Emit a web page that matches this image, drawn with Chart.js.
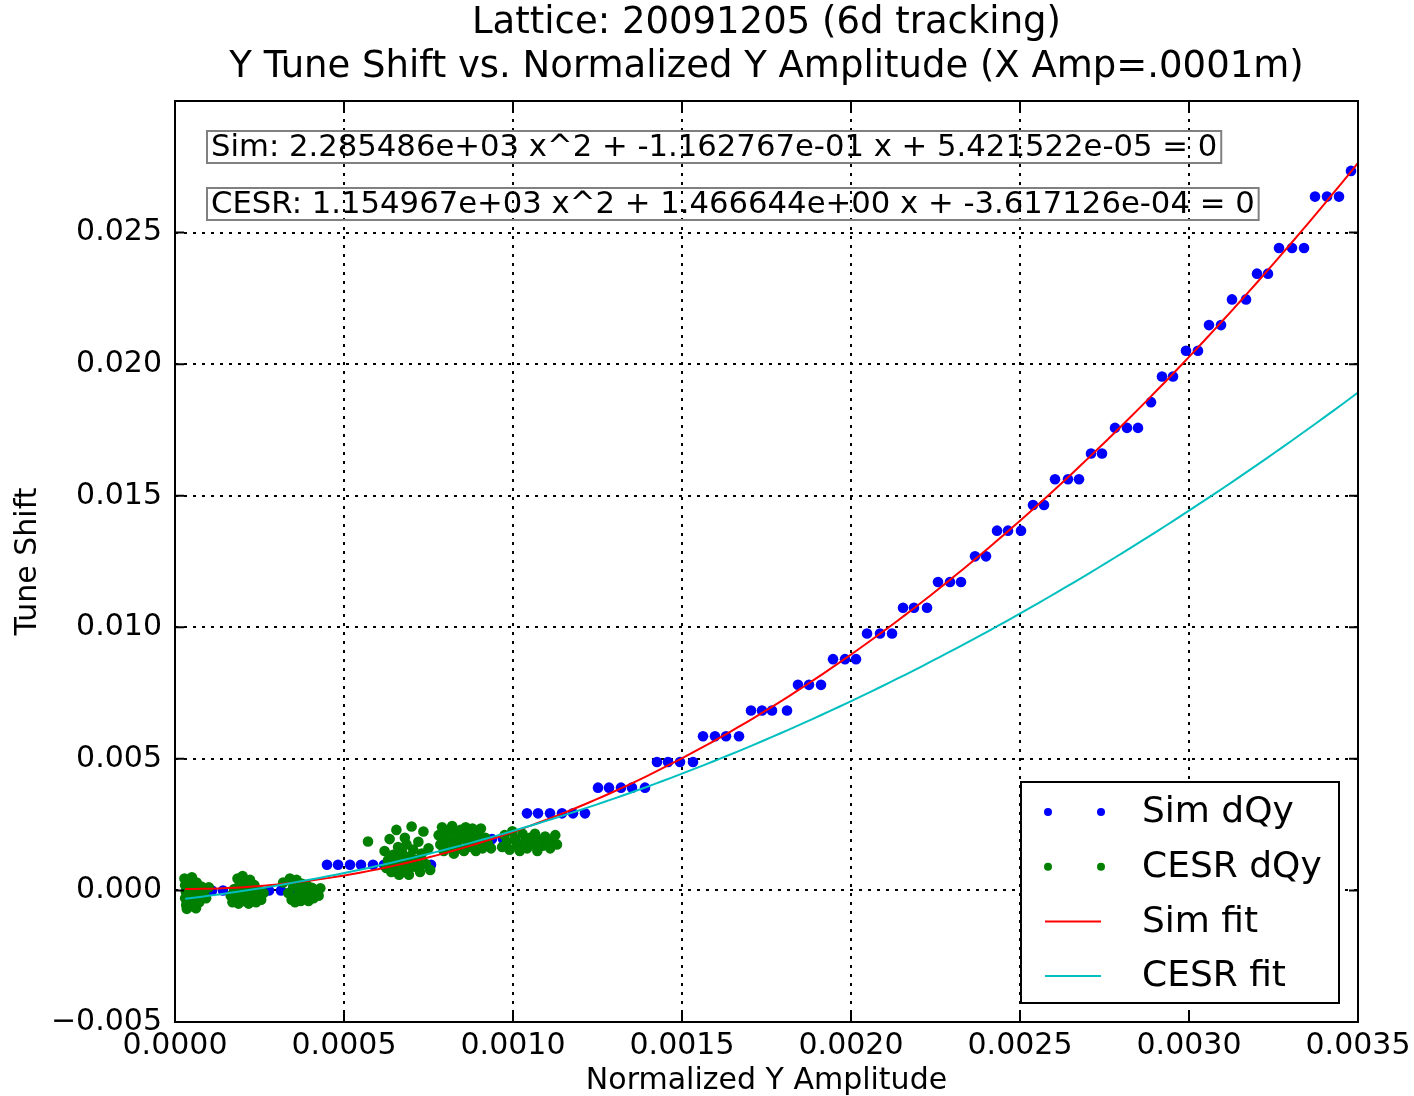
<!DOCTYPE html>
<html>
<head>
<meta charset="utf-8">
<title>Y Tune Shift</title>
<script src="https://cdn.jsdelivr.net/npm/chart.js@4.4.1/dist/chart.umd.min.js"></script>
<style>
  html, body { margin: 0; padding: 0; background: #fff; }
  #wrap { width: 1414px; height: 1096px; }
</style>
</head>
<body>
<div id="wrap"><canvas id="tune-chart" width="1414" height="1096"></canvas></div>
<script>
const FONT = '"DejaVu Sans", "Liberation Sans", sans-serif';

// tracking results (quantised tune shift, steps of 1/1024)
const simX = [
  0.0000414, 0.0000740, 0.0001095, 0.0001420, 0.0001775, 0.0002101, 0.0002456, 0.0002781, 0.0003136, 0.0003462, 0.0003817, 0.0004142,
  0.0004497, 0.0004823, 0.0005178, 0.0005503, 0.0005858, 0.0006183, 0.0006539, 0.0006864, 0.0007219, 0.0007574,
  0.0007988, 0.0008343, 0.0008698, 0.0009024, 0.0009379, 0.0009704, 0.0010059,
  0.0010414, 0.0010740, 0.0011095, 0.0011450, 0.0011775, 0.0012130,
  0.0012515, 0.0012840, 0.0013195, 0.0013521, 0.0013905,
  0.0014260, 0.0014586, 0.0014941, 0.0015326,
  0.0015621, 0.0015976, 0.0016302, 0.0016687,
  0.0017042, 0.0017367, 0.0017663, 0.0018107,
  0.0018432, 0.0018758, 0.0019113,
  0.0019468, 0.0019823, 0.0020148,
  0.0020474, 0.0020858, 0.0021213,
  0.0021539, 0.0021864, 0.0022249,
  0.0022574, 0.0022929, 0.0023255,
  0.0023669, 0.0023994,
  0.0024320, 0.0024645, 0.0025030,
  0.0025385, 0.0025710,
  0.0026036, 0.0026420, 0.0026746,
  0.0027101, 0.0027426,
  0.0027811, 0.0028166, 0.0028491,
  0.0028876,
  0.0029201, 0.0029527,
  0.0029911, 0.0030266,
  0.0030592, 0.0030947,
  0.0031272, 0.0031687,
  0.0032012, 0.0032337,
  0.0032663, 0.0033048, 0.0033403,
  0.0033728, 0.0034083, 0.0034438,
  0.0034793
];
const simY = [
  0, 0, 0, 0, 0, 0, 0, 0, 0, 0, 0, 0,
  0.000977, 0.000977, 0.000977, 0.000977, 0.000977, 0.000977, 0.000977, 0.000977, 0.000977, 0.000977,
  0.001953, 0.001953, 0.001953, 0.001953, 0.001953, 0.001953, 0.001953,
  0.002930, 0.002930, 0.002930, 0.002930, 0.002930, 0.002930,
  0.003906, 0.003906, 0.003906, 0.003906, 0.003906,
  0.004883, 0.004883, 0.004883, 0.004883,
  0.005859, 0.005859, 0.005859, 0.005859,
  0.006836, 0.006836, 0.006836, 0.006836,
  0.007813, 0.007813, 0.007813,
  0.008789, 0.008789, 0.008789,
  0.009766, 0.009766, 0.009766,
  0.010742, 0.010742, 0.010742,
  0.011719, 0.011719, 0.011719,
  0.012695, 0.012695,
  0.013672, 0.013672, 0.013672,
  0.014648, 0.014648,
  0.015625, 0.015625, 0.015625,
  0.016602, 0.016602,
  0.017578, 0.017578, 0.017578,
  0.018555,
  0.019531, 0.019531,
  0.020508, 0.020508,
  0.021484, 0.021484,
  0.022461, 0.022461,
  0.023438, 0.023438,
  0.024414, 0.024414, 0.024414,
  0.026367, 0.026367, 0.026367,
  0.027344
];

// machine measurements
const cesrX = [
  // first amplitude group
  0.000028, 0.000030, 0.000032, 0.000030, 0.000033, 0.000035, 0.000040, 0.000042, 0.000044, 0.000045,
  0.000048, 0.000050, 0.000052, 0.000055, 0.000056, 0.000058, 0.000062, 0.000064, 0.000066, 0.000070,
  0.000072, 0.000078, 0.000085, 0.000092, 0.000100,
  // second
  0.000165, 0.000170, 0.000175, 0.000180, 0.000185, 0.000188, 0.000192, 0.000195, 0.000200, 0.000203,
  0.000207, 0.000210, 0.000215, 0.000218, 0.000222, 0.000226, 0.000230, 0.000235, 0.000240, 0.000245,
  0.000250, 0.000255, 0.000262,
  // third
  0.000320, 0.000335, 0.000340, 0.000345, 0.000350, 0.000355, 0.000360, 0.000363, 0.000368, 0.000372,
  0.000376, 0.000380, 0.000385, 0.000390, 0.000395, 0.000400, 0.000405, 0.000410, 0.000418, 0.000425,
  0.000430,
  // fourth
  0.000571,
  0.000620, 0.000625, 0.000630, 0.000635, 0.000640, 0.000645, 0.000650, 0.000655, 0.000660, 0.000663,
  0.000668, 0.000672, 0.000676, 0.000680, 0.000685, 0.000688, 0.000692, 0.000696, 0.000700, 0.000705,
  0.000710, 0.000715, 0.000720, 0.000725, 0.000730, 0.000735, 0.000742, 0.000750, 0.000755,
  0.000650, 0.000665, 0.000675, 0.000690, 0.000700, 0.000712, 0.000722, 0.000660,
  // fifth
  0.000780, 0.000785, 0.000790, 0.000795, 0.000800, 0.000805, 0.000810, 0.000815, 0.000820, 0.000825,
  0.000830, 0.000835, 0.000840, 0.000845, 0.000850, 0.000855, 0.000860, 0.000865, 0.000870, 0.000875,
  0.000880, 0.000885, 0.000890, 0.000895, 0.000900, 0.000905, 0.000910, 0.000918, 0.000925, 0.000935,
  // sixth
  0.000968, 0.000975, 0.000982, 0.000990, 0.000998, 0.001005, 0.001012, 0.001020, 0.001028, 0.001035,
  0.001042, 0.001050, 0.001058, 0.001065, 0.001072, 0.001080, 0.001088, 0.001095, 0.001102, 0.001110,
  0.001118, 0.001125, 0.001130
];
const cesrY = [
  0.00045, 0.00020, -0.00005, -0.00030, -0.00055, -0.00070, 0.00035, 0.00010, -0.00015, -0.00040,
  -0.00060, 0.00050, 0.00025, 0.00000, -0.00025, -0.00050, -0.00068, 0.00030, 0.00005, -0.00020,
  -0.00045, 0.00015, -0.00010, -0.00030, 0.00012,

  -0.00020, -0.00045, 0.00005, -0.00030, 0.00045, -0.00050, 0.00025, -0.00010, 0.00055, -0.00040,
  0.00030, -0.00025, 0.00010, -0.00050, 0.00040, -0.00015, -0.00035, 0.00020, -0.00045, -0.00020,
  0.00000, -0.00035, -0.00010,

  0.00030, -0.00010, 0.00045, -0.00035, 0.00015, -0.00045, 0.00040, -0.00020, 0.00005, -0.00040,
  0.00025, -0.00030, -0.00005, 0.00020, -0.00040, -0.00015, 0.00010, -0.00030, 0.00000, -0.00020,
  0.00008,

  0.00186,
  0.00150, 0.00085, 0.00115, 0.00195, 0.00070, 0.00135, 0.00100, 0.00230, 0.00165, 0.00060,
  0.00120, 0.00145, 0.00085, 0.00200, 0.00175, 0.00105, 0.00060, 0.00130, 0.00243, 0.00155,
  0.00090, 0.00115, 0.00185, 0.00070, 0.00140, 0.00224, 0.00100, 0.00160, 0.00078,
  0.00125, 0.00095, 0.00110, 0.00080, 0.00120, 0.00095, 0.00105, 0.00140,

  0.00210, 0.00175, 0.00240, 0.00150, 0.00200, 0.00225, 0.00165, 0.00190, 0.00245, 0.00140,
  0.00215, 0.00180, 0.00160, 0.00230, 0.00200, 0.00150, 0.00240, 0.00185, 0.00215, 0.00165,
  0.00235, 0.00195, 0.00150, 0.00215, 0.00175, 0.00235, 0.00160, 0.00200, 0.00180, 0.00160,

  0.00165, 0.00210, 0.00185, 0.00155, 0.00225, 0.00195, 0.00170, 0.00150, 0.00215, 0.00185,
  0.00160, 0.00200, 0.00175, 0.00215, 0.00150, 0.00190, 0.00170, 0.00205, 0.00180, 0.00160,
  0.00195, 0.00210, 0.00175
];

// quadratic fit coefficients [a, b, c] for a x^2 + b x + c
const simFit = [2.285486e+03, -1.162767e-01, 5.421522e-05];
const cesrFit = [1.154967e+03, 1.466644e+00, -3.617126e-04];
const fitRange = [0.00003, 0.0035];

const xTicks = [0, 0.0005, 0.001, 0.0015, 0.002, 0.0025, 0.003, 0.0035];
const yTicks = [-0.005, 0, 0.005, 0.01, 0.015, 0.02, 0.025, 0.03];

const titleLines = ['Lattice: 20091205 (6d tracking)', 'Y Tune Shift vs. Normalized Y Amplitude (X Amp=.0001m)'];
const legendItems = [
  { label: 'Sim dQy', kind: 'dots', color: '#0000ff' },
  { label: 'CESR dQy', kind: 'dots', color: '#007f00' },
  { label: 'Sim fit', kind: 'line', color: '#ff0000' },
  { label: 'CESR fit', kind: 'line', color: '#00bfbf' }
];

function fmtCoef(v) {
  const s = v.toExponential(6);
  return s.replace(/e([+-])(\d)$/, 'e$10$2');
}
function fitText(name, c) {
  return name + ': ' + fmtCoef(c[0]) + ' x^2 + ' + fmtCoef(c[1]) + ' x + ' + fmtCoef(c[2]) + ' = 0';
}

function fitCurve(c) {
  const pts = [];
  const n = 140;
  for (let i = 0; i <= n; i++) {
    const x = fitRange[0] + (fitRange[1] - fitRange[0]) * i / n;
    pts.push({ x: x, y: c[0] * x * x + c[1] * x + c[2] });
  }
  return pts;
}

const simPoints = simX.map((x, i) => ({ x: x, y: simY[i] }));
const cesrPoints = cesrX.map((x, i) => ({ x: x, y: cesrY[i] }));

// frame, inward ticks, title, equation boxes and legend
const decorations = {
  id: 'decorations',
  beforeDraw(chart) {
    const ctx = chart.ctx;
    ctx.save();
    ctx.fillStyle = '#fff';
    ctx.fillRect(0, 0, chart.width, chart.height);
    ctx.restore();
  },
  afterDraw(chart) {
    const { ctx, chartArea: a, scales: { x, y } } = chart;
    ctx.save();

    ctx.strokeStyle = '#000';
    ctx.lineWidth = 2;
    ctx.setLineDash([]);
    ctx.strokeRect(a.left, a.top, a.right - a.left, a.bottom - a.top);

    ctx.beginPath();
    xTicks.forEach(v => {
      const px = x.getPixelForValue(v);
      ctx.moveTo(px, a.bottom); ctx.lineTo(px, a.bottom - 9);
      ctx.moveTo(px, a.top); ctx.lineTo(px, a.top + 9);
    });
    yTicks.forEach(v => {
      const py = y.getPixelForValue(v);
      ctx.moveTo(a.left, py); ctx.lineTo(a.left + 9, py);
      ctx.moveTo(a.right, py); ctx.lineTo(a.right - 9, py);
    });
    ctx.stroke();

    // title
    const cx = (a.left + a.right) / 2;
    ctx.fillStyle = '#000';
    ctx.font = '37px ' + FONT;
    ctx.textAlign = 'center';
    ctx.textBaseline = 'middle';
    ctx.fillText(titleLines[0], cx, 23);
    ctx.fillText(titleLines[1], cx, 67);

    // fit equations
    ctx.font = '30.7px ' + FONT;
    ctx.textAlign = 'left';
    const eqs = [[fitText('Sim', simFit), 147], [fitText('CESR', cesrFit), 204]];
    eqs.forEach(([txt, cy]) => {
      const w = ctx.measureText(txt).width;
      ctx.strokeStyle = '#808080';
      ctx.lineWidth = 2;
      ctx.strokeRect(207, cy - 16, w + 8, 32);
      ctx.fillStyle = '#000';
      ctx.fillText(txt, 211, cy + 1);
    });

    // legend
    const lx = 1021, ly = 782, lw = 318, lh = 221;
    ctx.fillStyle = '#fff';
    ctx.fillRect(lx, ly, lw, lh);
    ctx.strokeStyle = '#000';
    ctx.lineWidth = 2;
    ctx.strokeRect(lx, ly, lw, lh);
    ctx.font = '36px ' + FONT;
    legendItems.forEach((it, i) => {
      const ry = 812 + i * 54.7;
      if (it.kind === 'dots') {
        ctx.fillStyle = it.color;
        [1048, 1101].forEach(dx => {
          ctx.beginPath();
          ctx.arc(dx, ry, 4, 0, Math.PI * 2);
          ctx.fill();
        });
      } else {
        ctx.strokeStyle = it.color;
        ctx.lineWidth = 2;
        ctx.beginPath();
        ctx.moveTo(1045, ry);
        ctx.lineTo(1101, ry);
        ctx.stroke();
      }
      ctx.fillStyle = '#000';
      ctx.fillText(it.label, 1142, ry + 1);
    });

    ctx.restore();
  }
};

const ctx = document.getElementById('tune-chart').getContext('2d');
const tuneChart = new Chart(ctx, {
  type: 'scatter',
  data: {
    datasets: [
      {
        label: 'Sim dQy',
        data: simPoints,
        backgroundColor: '#0000ff',
        borderColor: '#0000ff',
        pointRadius: 5.3,
        borderWidth: 0,
        order: 4
      },
      {
        label: 'CESR dQy',
        data: cesrPoints,
        backgroundColor: '#007f00',
        borderColor: '#007f00',
        pointRadius: 5.3,
        borderWidth: 0,
        order: 3
      },
      {
        label: 'Sim fit',
        type: 'line',
        data: fitCurve(simFit),
        borderColor: '#ff0000',
        borderWidth: 2,
        pointRadius: 0,
        fill: false,
        tension: 0,
        order: 2
      },
      {
        label: 'CESR fit',
        type: 'line',
        data: fitCurve(cesrFit),
        borderColor: '#00bfbf',
        borderWidth: 2,
        pointRadius: 0,
        fill: false,
        tension: 0,
        order: 1
      }
    ]
  },
  options: {
    responsive: false,
    animation: false,
    devicePixelRatio: 1,
    layout: { padding: { top: 101, right: 56, bottom: 0, left: 0 } },
    plugins: {
      legend: { display: false },
      tooltip: { enabled: false }
    },
    scales: {
      x: {
        type: 'linear',
        min: 0,
        max: 0.0035,
        afterFit(scale) {
          scale.height = 74;
          scale.paddingLeft = 0;
          scale.paddingRight = 0;
        },
        afterBuildTicks(scale) {
          scale.ticks = xTicks.map(v => ({ value: v }));
        },
        ticks: {
          autoSkip: false,
          maxRotation: 0,
          padding: 6,
          color: '#000',
          font: { family: FONT, size: 30 },
          callback: v => v.toFixed(4)
        },
        grid: { color: '#000', lineWidth: 2, drawTicks: false },
        border: { display: false, dash: [3, 6] },
        title: {
          display: true,
          text: 'Normalized Y Amplitude',
          color: '#000',
          font: { family: FONT, size: 30, lineHeight: 1 },
          padding: { top: 0, bottom: 0 }
        }
      },
      y: {
        type: 'linear',
        min: -0.005,
        max: 0.03,
        afterFit(scale) {
          scale.width = 175;
          scale.paddingTop = 0;
          scale.paddingBottom = 0;
        },
        afterBuildTicks(scale) {
          scale.ticks = yTicks.map(v => ({ value: v }));
        },
        ticks: {
          autoSkip: false,
          padding: 13,
          color: '#000',
          font: { family: FONT, size: 30 },
          callback: v => {
            if (Math.abs(v - 0.03) < 1e-9) return '';
            return (v < -1e-12 ? '\u2212' : '') + Math.abs(v).toFixed(3);
          }
        },
        grid: { color: '#000', lineWidth: 2, drawTicks: false },
        border: { display: false, dash: [3, 6] },
        title: {
          display: true,
          text: 'Tune Shift',
          color: '#000',
          font: { family: FONT, size: 30, lineHeight: 1.2 },
          padding: { top: 10, bottom: 0 }
        }
      }
    }
  },
  plugins: [decorations]
});
</script>
</body>
</html>
